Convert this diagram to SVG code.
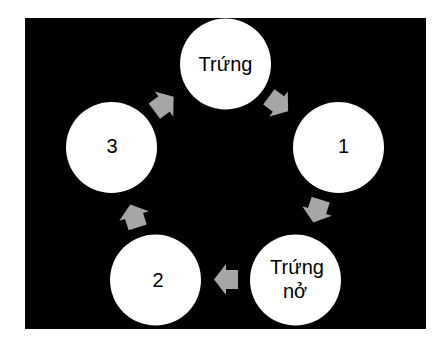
<svg xmlns="http://www.w3.org/2000/svg" width="448" height="354" viewBox="0 0 448 354">
<defs>
<style>
.node circle{fill:#ffffff}
.lbl{font-family:"Liberation Sans",Arial,sans-serif;font-size:20px;fill:#000000;text-anchor:middle}
.arr{fill:#a6a6a6}
</style>
<path id="arrow" d="M-12,-9.5 H0 V-15.5 L12,0 L0,15.5 V9.5 H-12 Z"/>
</defs>
<rect x="0" y="0" width="448" height="354" fill="#ffffff"/>
<rect x="25" y="18" width="401" height="311" fill="#000000"/>
<g id="connectors">
<use href="#arrow" class="arr" transform="translate(278.5,104) rotate(36.5)"/>
<use href="#arrow" class="arr" transform="translate(317,211) rotate(108)"/>
<use href="#arrow" class="arr" transform="translate(226,279.5) rotate(180)"/>
<use href="#arrow" class="arr" transform="translate(134,216) rotate(252)"/>
<use href="#arrow" class="arr" transform="translate(164,104) rotate(-36.5)"/>
</g>
<g id="node-trung" class="node">
<circle cx="225.5" cy="64" r="45.5"/>
<text class="lbl" x="225.5" y="71">Trứng</text>
</g>
<g id="node-1" class="node">
<circle cx="338.5" cy="147.5" r="45.5"/>
<text class="lbl" x="343.5" y="153">1</text>
</g>
<g id="node-trung-no" class="node">
<circle cx="295.5" cy="280" r="45.5"/>
<text class="lbl" x="297" y="274">Trứng</text>
<text class="lbl" x="295" y="298">nở</text>
</g>
<g id="node-2" class="node">
<circle cx="155.5" cy="280" r="45.5"/>
<text class="lbl" x="158" y="287">2</text>
</g>
<g id="node-3" class="node">
<circle cx="111.5" cy="147.5" r="45.5"/>
<text class="lbl" x="112" y="153">3</text>
</g>
</svg>
